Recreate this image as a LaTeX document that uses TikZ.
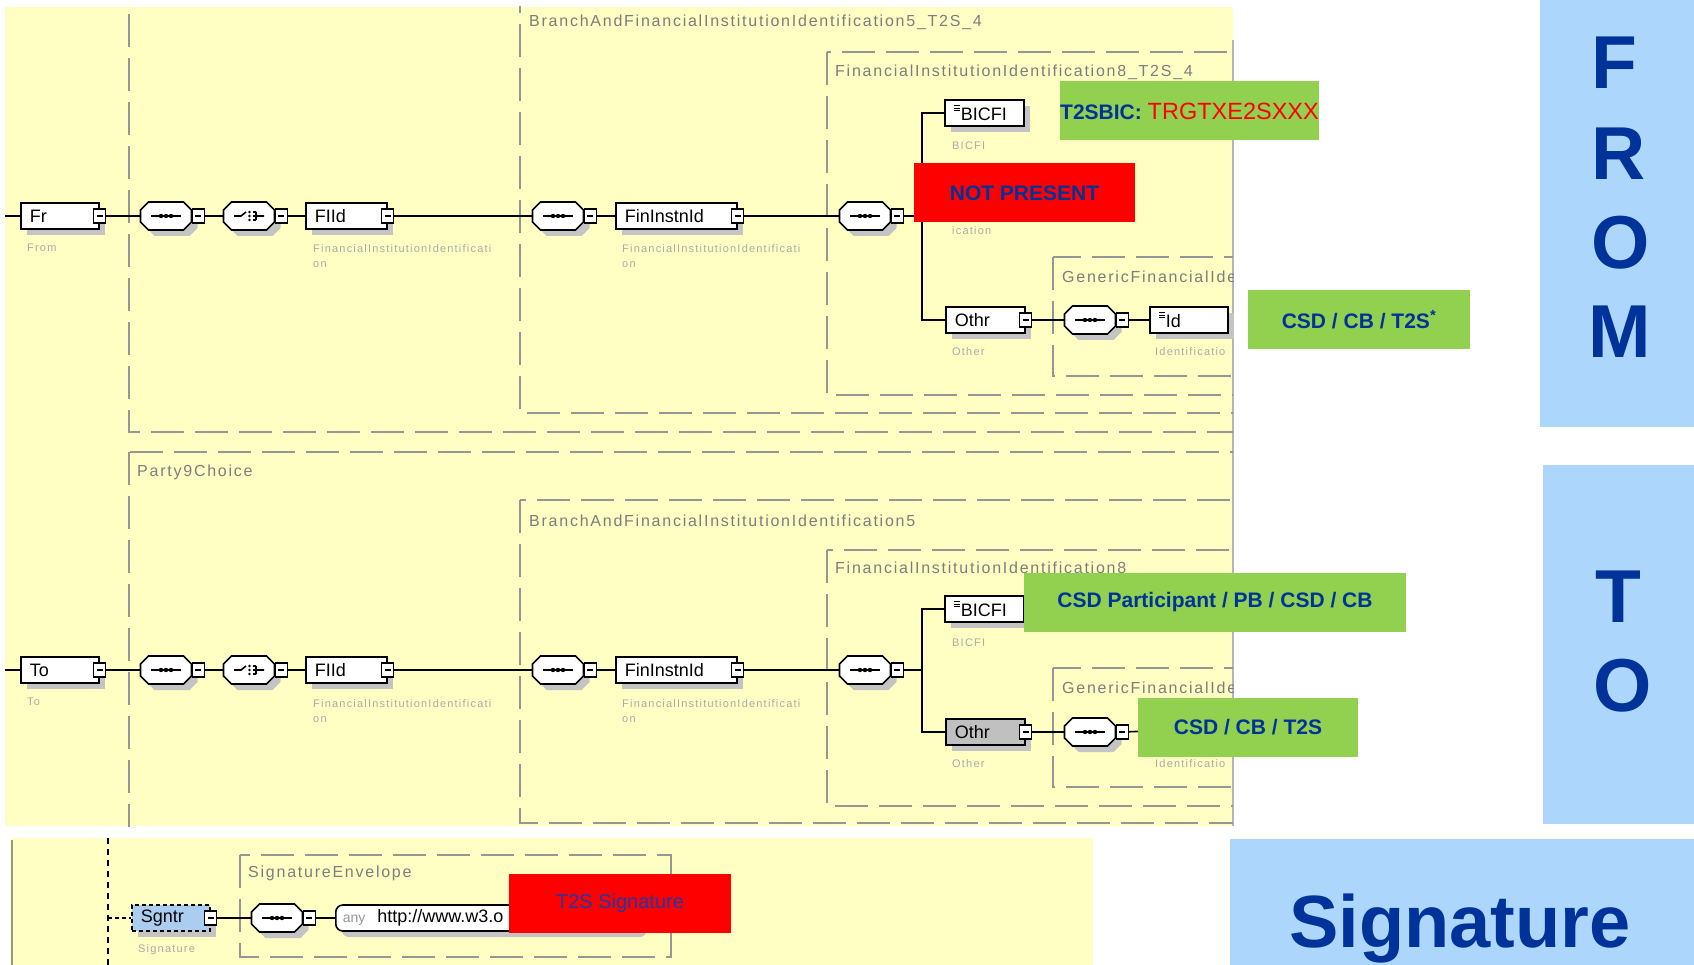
\documentclass[tikz,border=0pt]{standalone}
\usepackage{fontspec}
\setmainfont{Liberation Sans}
\newfontfamily\spyfont{Liberation Sans}[LetterSpace=11]
\usetikzlibrary{shadows,positioning}
\definecolor{spyyellow}{RGB}{255,255,196}
\definecolor{framegray}{RGB}{150,150,150}
\definecolor{titlegray}{RGB}{125,125,125}
\definecolor{labelgray}{RGB}{170,170,170}
\definecolor{shadowgray}{RGB}{196,196,196}
\definecolor{othrgray}{RGB}{192,192,192}
\definecolor{sgntrblue}{RGB}{170,205,240}
\definecolor{callgreen}{RGB}{146,208,80}
\definecolor{callred}{RGB}{255,0,0}
\definecolor{darkblue}{RGB}{0,51,153}
\definecolor{sigblue}{RGB}{35,55,165}
\definecolor{lightblue}{RGB}{173,214,252}
\makeatletter
\pgfdeclareshape{compositor}{%
  \inheritsavedanchors[from=rectangle]%
  \inheritanchorborder[from=rectangle]%
  \inheritanchor[from=rectangle]{center}%
  \inheritanchor[from=rectangle]{east}%
  \inheritanchor[from=rectangle]{west}%
  \inheritanchor[from=rectangle]{north}%
  \inheritanchor[from=rectangle]{south}%
  \backgroundpath{%
    \southwest\edef\cpxa{\the\pgf@x}\edef\cpya{\the\pgf@y}%
    \northeast\edef\cpxb{\the\pgf@x}\edef\cpyb{\the\pgf@y}%
    \pgfpathmoveto{\pgfqpoint{\dimexpr\cpxa+8pt\relax}{\cpya}}%
    \pgfpathlineto{\pgfqpoint{\dimexpr\cpxb-8pt\relax}{\cpya}}%
    \pgfpathlineto{\pgfqpoint{\cpxb}{\dimexpr\cpya+8pt\relax}}%
    \pgfpathlineto{\pgfqpoint{\cpxb}{\dimexpr\cpyb-8pt\relax}}%
    \pgfpathlineto{\pgfqpoint{\dimexpr\cpxb-8pt\relax}{\cpyb}}%
    \pgfpathlineto{\pgfqpoint{\dimexpr\cpxa+8pt\relax}{\cpyb}}%
    \pgfpathlineto{\pgfqpoint{\cpxa}{\dimexpr\cpyb-8pt\relax}}%
    \pgfpathlineto{\pgfqpoint{\cpxa}{\dimexpr\cpya+8pt\relax}}%
    \pgfpathclose%
  }%
}
\makeatother
\newcommand{\seqicon}{\tikz[baseline=0pt]{\draw[line width=1.6pt] (0pt,0pt)--(30pt,0pt); \fill (10pt,0pt) circle (2.2pt) (15pt,0pt) circle (2.2pt) (20pt,0pt) circle (2.2pt);}}
\newcommand{\choiceicon}{\tikz[baseline=0pt]{\draw[line width=1.6pt] (0pt,0pt)--(7pt,0pt)--(12pt,4pt) (22pt,-4pt)--(22pt,4pt) (19pt,4pt)--(22pt,4pt) (19pt,0pt)--(30pt,0pt) (19pt,-4pt)--(22pt,-4pt); \fill (15.5pt,4pt) circle (1.4pt) (15.5pt,0pt) circle (1.4pt) (15.5pt,-4pt) circle (1.4pt);}}
\newcommand{\leaficon}{\tikz[baseline=0pt]{\draw[line width=1pt] (0pt,10pt)--(6pt,10pt) (0pt,12.5pt)--(6pt,12.5pt) (0pt,15pt)--(6pt,15pt);}}
\newcommand{\minussign}{\rule{6pt}{1.3pt}}

\begin{document}
\begin{tikzpicture}[x=1pt,y=-1pt]

\tikzset{
elem/.style={rectangle,draw,line width=1.6pt,fill=white,anchor=west,minimum height=26pt,inner xsep=9pt,inner ysep=2pt,align=left,font=\fontsize{18}{18}\selectfont,drop shadow={shadow xshift=6pt,shadow yshift=-6pt,fill=shadowgray,opacity=1}},
minusbox/.style={rectangle,draw,line width=1.2pt,fill=white,minimum width=12pt,minimum height=14pt,inner sep=0pt},
comp/.style={compositor,draw,line width=1.6pt,fill=white,minimum width=51pt,minimum height=28pt,inner sep=0pt,outer sep=0pt,drop shadow={shadow xshift=6pt,shadow yshift=-6pt,fill=shadowgray,opacity=1}},
grpframe/.style={draw=framegray,line width=2pt,dash pattern=on 33pt off 11pt},
frametitle/.style={anchor=west,inner sep=0pt,text=titlegray,font=\spyfont\fontsize{16}{16}\selectfont},
sublabel/.style={anchor=west,inner sep=0pt,text=labelgray,font=\spyfont\fontsize{11}{15}\selectfont},
twoline/.style={sublabel,anchor=north west,align=left},
conn/.style={line width=1.6pt},
notebox/.style={rectangle,minimum height=59pt,inner sep=0pt,text=darkblue,font=\bfseries\fontsize{21}{21}\selectfont},
bigletter/.style={anchor=base,inner sep=0pt,text=darkblue,font=\bfseries\fontsize{75}{75}\selectfont}
}

\useasboundingbox (0,0) rectangle (1694,965);
\fill[spyyellow] (5,7) rectangle (1233,826);
\fill[spyyellow] (10,838) rectangle (1093,965);
\fill[lightblue] (1540,0) rectangle (1694,427);
\fill[lightblue] (1543,465) rectangle (1694,824);
\fill[lightblue] (1230,839) rectangle (1694,965);
\draw[color=framegray!70,line width=2pt] (1233,40) -- (1233,826);
\draw[color=framegray,line width=1.5pt] (12,840) -- (12,965);
\draw[line width=1.5pt,dash pattern=on 6pt off 5pt] (108,838) -- (108,965);

\begin{scope}
\clip (5,7) rectangle (1233,826);
\draw[grpframe] (129,-30) rectangle (1300,432);
\draw[grpframe] (520,-20) rectangle (1300,413);
\draw[grpframe] (827,52) rectangle (1300,395);
\draw[grpframe] (1053,257) rectangle (1300,376);
\draw[grpframe] (129,452) rectangle (1300,860);
\draw[grpframe] (520,500) rectangle (1300,823);
\draw[grpframe] (827,550) rectangle (1300,806);
\draw[grpframe] (1053,668) rectangle (1300,787);
\node[frametitle] (t-branch1) at (529,22) {BranchAndFinancialInstitutionIdentification5\_T2S\_4};
\node[frametitle] (t-fin1) at (835,72) {FinancialInstitutionIdentification8\_T2S\_4};
\node[frametitle] (t-gen1) at (1062,277) {GenericFinancialIde};
\node[frametitle] (t-party2) at (137,472) {Party9Choice};
\node[frametitle] (t-branch2) at (529,521) {BranchAndFinancialInstitutionIdentification5};
\node[frametitle] (t-fin2) at (835,568) {FinancialInstitutionIdentification8};
\node[frametitle] (t-gen2) at (1062,688) {GenericFinancialIde};
\node[sublabel] (l-id1) at (1155,352) {Identificatio};
\node[sublabel] (l-id2) at (1155,764) {Identificatio};
\end{scope}

\draw[grpframe] (240,855) rectangle (671,957);
\node[frametitle] (t-sig) at (248,873) {SignatureEnvelope};

\coordinate (in1) at (5,216);
\node[elem,text width=60pt] (fr) at (20,216) {Fr};
\node[minusbox] (fr-m) at (fr.east) {\minussign};
\node[comp] (seq1) at (166,216) {\seqicon};
\node[minusbox,right=0pt of seq1] (seq1-m) {\minussign};
\node[comp] (cho1) at (249,216) {\choiceicon};
\node[minusbox,right=0pt of cho1] (cho1-m) {\minussign};
\node[elem,text width=63pt] (fiid1) at (305,216) {FIId};
\node[minusbox] (fiid1-m) at (fiid1.east) {\minussign};
\node[comp] (seq2) at (558,216) {\seqicon};
\node[minusbox,right=0pt of seq2] (seq2-m) {\minussign};
\node[elem,text width=103pt] (fin1) at (615,216) {FinInstnId};
\node[minusbox] (fin1-m) at (fin1.east) {\minussign};
\node[comp] (seq3) at (865,216) {\seqicon};
\node[minusbox,right=0pt of seq3] (seq3-m) {\minussign};
\coordinate (br1) at (922,216);
\node[elem,text width=61pt] (bic1) at (944,113) {\leaficon BICFI};
\node[elem,text width=61pt] (oth1) at (945,320) {Othr};
\node[minusbox] (oth1-m) at (oth1.east) {\minussign};
\node[comp] (gen1) at (1090,320) {\seqicon};
\node[minusbox,right=0pt of gen1] (gen1-m) {\minussign};
\node[elem,text width=60pt] (id1) at (1149,320) {\leaficon Id};

\draw[conn] (in1) -- (fr);
\draw[conn] (fr-m) -- (seq1);
\draw[conn] (seq1-m) -- (cho1);
\draw[conn] (cho1-m) -- (fiid1);
\draw[conn] (fiid1-m) -- (seq2);
\draw[conn] (seq2-m) -- (fin1);
\draw[conn] (fin1-m) -- (seq3);
\draw[conn] (seq3-m) -- (br1);
\draw[conn] (bic1.west) -| (br1) |- (oth1.west);
\draw[conn] (oth1-m) -- (gen1);
\draw[conn] (gen1-m) -- (id1);

\coordinate (in2) at (5,670);
\node[elem,text width=60pt] (to) at (20,670) {To};
\node[minusbox] (to-m) at (to.east) {\minussign};
\node[comp] (seq4) at (166,670) {\seqicon};
\node[minusbox,right=0pt of seq4] (seq4-m) {\minussign};
\node[comp] (cho2) at (249,670) {\choiceicon};
\node[minusbox,right=0pt of cho2] (cho2-m) {\minussign};
\node[elem,text width=63pt] (fiid2) at (305,670) {FIId};
\node[minusbox] (fiid2-m) at (fiid2.east) {\minussign};
\node[comp] (seq5) at (558,670) {\seqicon};
\node[minusbox,right=0pt of seq5] (seq5-m) {\minussign};
\node[elem,text width=103pt] (fin2) at (615,670) {FinInstnId};
\node[minusbox] (fin2-m) at (fin2.east) {\minussign};
\node[comp] (seq6) at (865,670) {\seqicon};
\node[minusbox,right=0pt of seq6] (seq6-m) {\minussign};
\coordinate (br2) at (922,670);
\node[elem,text width=61pt] (bic2) at (944,609) {\leaficon BICFI};
\node[elem,text width=61pt,fill=othrgray] (oth2) at (945,732) {Othr};
\node[minusbox] (oth2-m) at (oth2.east) {\minussign};
\node[comp] (gen2) at (1090,732) {\seqicon};
\node[minusbox,right=0pt of gen2] (gen2-m) {\minussign};

\draw[conn] (in2) -- (to);
\draw[conn] (to-m) -- (seq4);
\draw[conn] (seq4-m) -- (cho2);
\draw[conn] (cho2-m) -- (fiid2);
\draw[conn] (fiid2-m) -- (seq5);
\draw[conn] (seq5-m) -- (fin2);
\draw[conn] (fin2-m) -- (seq6);
\draw[conn] (seq6-m) -- (br2);
\draw[conn] (bic2.west) -| (br2) |- (oth2.west);
\draw[conn] (oth2-m) -- (gen2);

\coordinate (sg-in) at (108,918);
\node[elem,text width=60pt,fill=sgntrblue,dash pattern=on 4pt off 3pt] (sgntr) at (131,918) {Sgntr};
\node[minusbox] (sgntr-m) at (sgntr.east) {\minussign};
\node[comp] (seq7) at (277,918) {\seqicon};
\node[minusbox,right=0pt of seq7] (seq7-m) {\minussign};
\node[elem,rounded corners=7pt,text width=291pt,inner xsep=7pt] (anyel) at (335,918) {{\color{framegray}\fontsize{14}{14}\selectfont any}\ \ http://www.w3.o};

\draw[conn,dash pattern=on 4pt off 3pt] (sg-in) -- (sgntr);
\draw[conn] (sgntr-m) -- (seq7);
\draw[conn] (seq7-m) -- (anyel);

\node[sublabel] (l-from) at (27,248) {From};
\node[twoline] (l-fiid1) at (313,244) {FinancialInstitutionIdentificati\\on};
\node[twoline] (l-fin1) at (622,244) {FinancialInstitutionIdentificati\\on};
\node[sublabel] (l-bic1) at (952,146) {BICFI};
\node[sublabel] (l-clr1) at (952,231) {ication};
\node[sublabel] (l-oth1) at (952,352) {Other};
\node[sublabel] (l-to) at (27,702) {To};
\node[twoline] (l-fiid2) at (313,699) {FinancialInstitutionIdentificati\\on};
\node[twoline] (l-fin2) at (622,699) {FinancialInstitutionIdentificati\\on};
\node[sublabel] (l-bic2) at (952,643) {BICFI};
\node[sublabel] (l-oth2) at (952,764) {Other};
\node[sublabel] (l-sgntr) at (138,950) {Signature};

\node[notebox,fill=callgreen,minimum width=257pt] (bicnote) at (1189.5,111) {T2SBIC: {\mdseries\fontsize{23.5}{23.5}\selectfont\color{callred}TRGTXE2SXXX}};
\node[notebox,fill=callred,minimum width=221pt] (notpresent) at (1024.5,193) {NOT PRESENT};
\node[notebox,fill=callgreen,minimum width=222pt] (csd1) at (1359,319.5) {CSD / CB / T2S\textsuperscript{*}};
\node[notebox,fill=callgreen,minimum width=382pt] (part2) at (1215,602.5) {CSD Participant / PB / CSD / CB};
\node[notebox,fill=callgreen,minimum width=220pt] (csd2) at (1248,727.5) {CSD / CB / T2S};
\draw[conn] (gen2-m) -- (csd2);
\node[notebox,fill=callred,minimum width=222pt,text=sigblue,font=\fontsize{20}{20}\selectfont] (sigred) at (620,903.5) {T2S Signature};

\node[bigletter] (from-f) at (1614,89) {F};
\node[bigletter] (from-r) at (1619,180) {R};
\node[bigletter] (from-o) at (1621,269) {O};
\node[bigletter] (from-m) at (1620,358) {M};
\node[bigletter] (to-t) at (1618,622) {T};
\node[bigletter] (to-o) at (1623,711) {O};
\node[bigletter,font=\bfseries\fontsize{74}{74}\selectfont] (sigword) at (1460,947) {Signature};

\end{tikzpicture}
\end{document}
